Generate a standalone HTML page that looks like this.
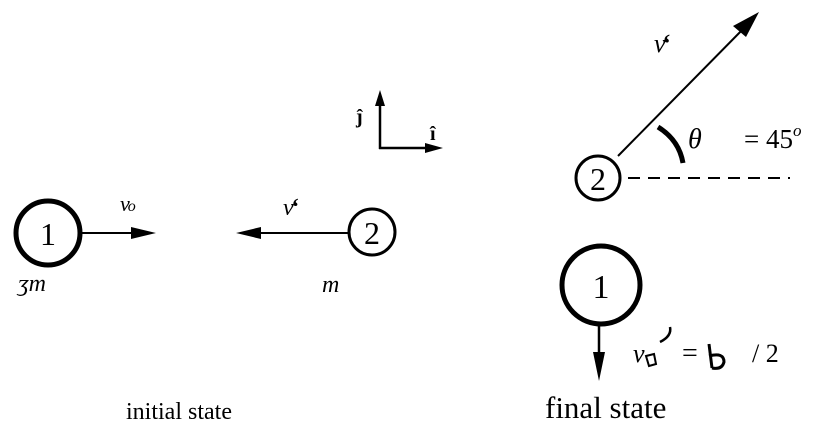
<!DOCTYPE html>
<html><head><meta charset="utf-8"><style>html,body{margin:0;padding:0;background:#fff}svg{display:block}</style></head>
<body>
<svg width="820" height="428" viewBox="0 0 820 428" xmlns="http://www.w3.org/2000/svg" font-family="Liberation Serif, serif" fill="#000">
<!-- initial state -->
<circle cx="48" cy="233" r="32" fill="none" stroke="#000" stroke-width="5"/>
<text x="48" y="245" font-size="32" text-anchor="middle">1</text>
<line x1="82" y1="233" x2="140" y2="233" stroke="#000" stroke-width="2"/>
<path d="M131,227 L156,233 L131,239 Z"/>
<text x="120" y="211" font-size="22" font-style="italic">v<tspan font-size="16" dx="-2">o</tspan></text>
<text x="18" y="291" font-size="24" font-style="italic">ʒm</text>
<circle cx="372" cy="232" r="23" fill="none" stroke="#000" stroke-width="3"/>
<text x="372" y="244" font-size="32" text-anchor="middle">2</text>
<line x1="349" y1="233" x2="252" y2="233" stroke="#000" stroke-width="2"/>
<path d="M261,227 L236,233 L261,239 Z"/>
<text x="283" y="215" font-size="24" font-style="italic">v<tspan font-weight="bold" dx="-3">ʻ</tspan></text>
<text x="322" y="292" font-size="24" font-style="italic">m</text>
<text x="126" y="419" font-size="24">initial state</text>
<!-- axes -->
<line x1="380" y1="149" x2="380" y2="103" stroke="#000" stroke-width="2.5"/>
<path d="M375,106 L380,90 L385,106 Z"/>
<line x1="379" y1="148" x2="428" y2="148" stroke="#000" stroke-width="2.5"/>
<path d="M425,143 L443,148 L425,153 Z"/>
<text x="356" y="123" font-size="20" font-weight="bold">ĵ</text>
<text x="430" y="140" font-size="20" font-weight="bold">î</text>
<!-- final state -->
<circle cx="598" cy="178" r="22" fill="none" stroke="#000" stroke-width="3"/>
<text x="598" y="190" font-size="32" text-anchor="middle">2</text>
<line x1="618" y1="156" x2="748" y2="24" stroke="#000" stroke-width="2"/>
<path d="M733,26 L759,12 L746,37 Z"/>
<text x="654" y="52" font-size="26" font-style="italic">v<tspan font-weight="bold" dx="-4">ʻ</tspan></text>
<path d="M658,127 Q679,140 683,163" fill="none" stroke="#000" stroke-width="5"/>
<text x="688" y="148" font-size="28" font-style="italic">θ</text>
<text x="744" y="148" font-size="27">= 45<tspan font-size="17" font-style="italic" dy="-12">o</tspan></text>
<line x1="628" y1="178" x2="790" y2="178" stroke="#000" stroke-width="2" stroke-dasharray="12,8"/>
<circle cx="601" cy="285" r="39" fill="none" stroke="#000" stroke-width="5"/>
<text x="601" y="298" font-size="34" text-anchor="middle">1</text>
<line x1="599" y1="324" x2="599" y2="360" stroke="#000" stroke-width="2.5"/>
<path d="M593,352 L599,381 L605,352 Z"/>
<text x="633" y="362" font-size="26" font-style="italic">v</text>
<path d="M646,356 L654,354 L656,364 L649,366 Z" fill="none" stroke="#000" stroke-width="2"/>
<path d="M670,327 Q672,336 660,342" fill="none" stroke="#000" stroke-width="2.5"/>
<text x="682" y="362" font-size="28">=</text>
<path d="M709,344 L712,368 M709,356 Q724,352 724,362 Q722,370 712,368" fill="none" stroke="#000" stroke-width="3"/>
<text x="752" y="362" font-size="26">/ 2</text>
<text x="545" y="418" font-size="31">final state</text>
</svg>
</body></html>
